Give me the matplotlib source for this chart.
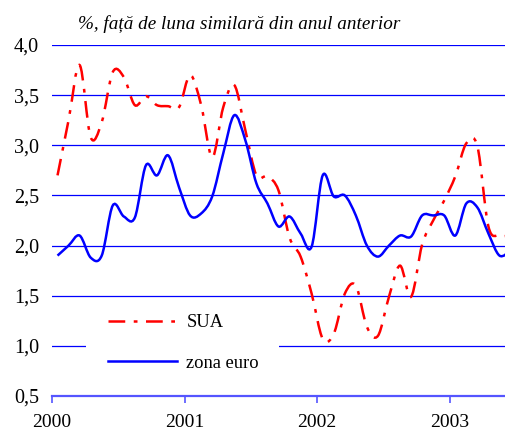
import matplotlib
matplotlib.use('Agg')
import matplotlib.pyplot as plt
from matplotlib.path import Path
from matplotlib.patches import PathPatch, Rectangle
from matplotlib.lines import Line2D

# Inflatia anuala, date lunare ian. 2000 - iun. 2003
sua = [2.70, 3.25, 3.80, 3.08, 3.23, 3.73, 3.68, 3.40, 3.49, 3.40,
       3.39, 3.38, 3.70, 3.40, 2.88, 3.38, 3.60, 3.15, 2.70, 2.69,
       2.55, 2.08, 1.89, 1.52, 1.07, 1.12, 1.52, 1.60, 1.19, 1.10,
       1.49, 1.80, 1.49, 2.01, 2.25, 2.45, 2.69, 3.02, 2.99, 2.19,
       2.10, 2.10]
zona_euro = [1.90, 2.00, 2.10, 1.88, 1.90, 2.40, 2.29, 2.28, 2.80, 2.70,
             2.90, 2.58, 2.30, 2.32, 2.49, 2.92, 3.30, 3.05, 2.62, 2.42,
             2.19, 2.29, 2.12, 1.99, 2.70, 2.49, 2.50, 2.30, 2.00, 1.89,
             2.00, 2.10, 2.09, 2.30, 2.30, 2.30, 2.10, 2.42, 2.38, 2.12,
             1.90, 1.95]
ani = ['2000', '2001', '2002', '2003']
y_ticks = [0.5, 1.0, 1.5, 2.0, 2.5, 3.0, 3.5, 4.0]
y_labels = ['0,5', '1,0', '1,5', '2,0', '2,5', '3,0', '3,5', '4,0']

plt.rcParams['font.family'] = ['Liberation Serif', 'DejaVu Serif']

LINIE_SUA = (0, (6.7, 3.4, 1.5, 3.4))


def linie_netezita(valori):
    # curba neteda (Bezier tip Catmull-Rom) prin punctele lunare, ca in Excel
    pts = [(i + 0.5, v) for i, v in enumerate(valori)]
    verts = [pts[0]]
    codes = [Path.MOVETO]
    n = len(pts)
    for i in range(n - 1):
        p0 = pts[max(i - 1, 0)]
        p1 = pts[i]
        p2 = pts[i + 1]
        p3 = pts[min(i + 2, n - 1)]
        c1 = (p1[0] + (p2[0] - p0[0]) / 6, p1[1] + (p2[1] - p0[1]) / 6)
        c2 = (p2[0] - (p3[0] - p1[0]) / 6, p2[1] - (p3[1] - p1[1]) / 6)
        verts += [c1, c2, p2]
        codes += [Path.CURVE4] * 3
    return Path(verts, codes)


fig = plt.figure(figsize=(5.05, 4.3), dpi=100)
ax = fig.add_axes([52 / 505, 34 / 430, 453 / 505, 351 / 430])

ax.set_xlim(0, 41)
ax.set_ylim(0.5, 4.0)

# linii de grila albastre
ax.set_axisbelow(True)
ax.set_yticks(y_ticks)
ax.set_yticklabels(y_labels, fontsize=14.5)
ax.yaxis.grid(True, color='#0000ff', linewidth=0.9)
ax.tick_params(axis='y', length=0, pad=9.4)

ax.set_xticks([0, 12, 24, 36])
ax.set_xticklabels(ani, fontsize=14)
ax.tick_params(axis='x', direction='out', length=5, width=1.2,
               color='#5555ff', pad=8.3)

for s in ['top', 'right', 'left']:
    ax.spines[s].set_visible(False)
ax.spines['bottom'].set_color('#5555ff')
ax.spines['bottom'].set_linewidth(1.6)

# fundal alb pentru legenda
ax.add_patch(Rectangle((34 / 453, 0.031), 193 / 453, 0.24,
                       transform=ax.transAxes, facecolor='white',
                       edgecolor='none', zorder=1))

ax.add_patch(PathPatch(linie_netezita(sua), fill=False, edgecolor='#ff0000',
                       linewidth=1.8, linestyle=LINIE_SUA, zorder=3))
ax.add_patch(PathPatch(linie_netezita(zona_euro), fill=False,
                       edgecolor='#0000ff', linewidth=1.8, zorder=3))

handles = [Line2D([], [], color='#ff0000', linewidth=1.8, linestyle=LINIE_SUA),
           Line2D([], [], color='#0000ff', linewidth=1.8)]
ax.legend(handles, ['SUA', 'zona euro'], frameon=False, fontsize=13.3,
          loc='center left', bbox_to_anchor=(47 / 453, (396 - 343) / 351),
          borderpad=0, handlelength=3.73, handletextpad=0.5,
          labelspacing=1.27)

fig.text(78 / 505, 1 - 24 / 430, '%, față de luna similară din anul anterior',
         fontsize=13.8, style='italic', va='center', ha='left')

plt.savefig('out.png', dpi=100)
plt.close()
